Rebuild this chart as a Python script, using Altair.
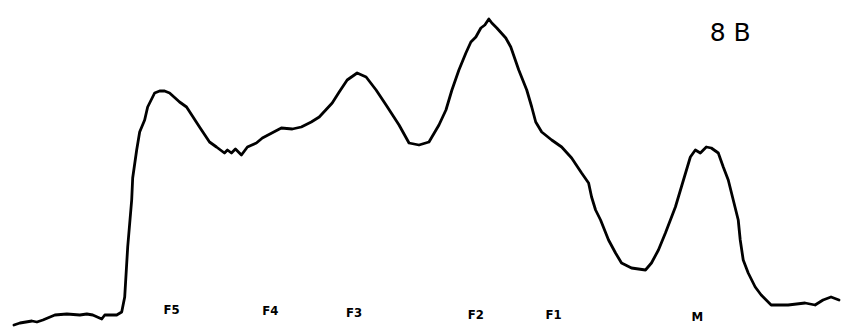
import altair as alt
import pandas as pd

# Densitometer scan: position along the strip vs. optical density (arbitrary units)
position = [14, 20, 32, 37, 43, 55, 67, 80, 87, 93, 102, 105, 117, 122, 125, 128, 132, 133,
            137, 140, 145, 148, 155, 160, 165, 170, 180, 187, 200, 210, 217, 225, 228, 232,
            236, 242, 248, 257, 263, 282, 293, 302, 312, 320, 333, 340, 348, 358, 367, 377,
            387, 400, 410, 420, 430, 440, 447, 453, 460, 467, 472, 477, 482, 486, 490, 493,
            498, 507, 512, 520, 528, 533, 537, 543, 553, 563, 573, 583, 590, 593, 597, 602,
            610, 617, 623, 633, 647, 653, 660, 667, 677, 683, 692, 697, 702, 708, 713, 720,
            725, 730, 735, 740, 742, 745, 750, 757, 763, 773, 790, 807, 817, 825, 833, 841]
density = [2, 4, 6, 5, 7, 12, 13, 12, 13, 12, 8, 12, 12, 15, 30, 80, 127, 149,
           177, 195, 207, 220, 234, 236, 236, 234, 225, 220, 200, 185, 180, 174, 177, 174,
           178, 172, 180, 184, 189, 199, 198, 200, 205, 210, 224, 235, 247, 254, 250, 237,
           222, 202, 184, 182, 185, 202, 217, 237, 257, 274, 285, 290, 299, 302, 308, 304,
           299, 289, 280, 257, 237, 220, 205, 195, 187, 180, 169, 154, 144, 130, 117, 107,
           87, 74, 64, 59, 57, 64, 77, 94, 120, 140, 170, 177, 174, 180, 179, 174,
           160, 147, 127, 107, 87, 67, 54, 40, 32, 22, 22, 24, 22, 27, 30, 27]

# Fraction labels under the trace
label_text = ["F5", "F4", "F3", "F2", "F1", "M"]
label_pos = [172, 271, 355, 477, 555, 699]
label_y = [17, 16, 14, 12, 12, 10]

panel_text = ["8 B"]
panel_pos = [732]
panel_y = [294]

trace = pd.DataFrame({"position": position, "density": density})
labels = pd.DataFrame({"position": label_pos, "density": label_y, "text": label_text})
panel = pd.DataFrame({"position": panel_pos, "density": panel_y, "text": panel_text})

x = alt.X("position:Q", scale=alt.Scale(domain=[0, 841], nice=False), axis=None)
y = alt.Y("density:Q", scale=alt.Scale(domain=[0, 327], nice=False), axis=None)

line = alt.Chart(trace).mark_line(
    color="black", strokeWidth=2.8, interpolate="linear",
    strokeJoin="round", strokeCap="round"
).encode(x=x, y=y)

fractions = alt.Chart(labels).mark_text(
    font="DejaVu Sans Condensed", fontSize=13, fontWeight="bold", color="black",
    baseline="middle"
).encode(x=x, y=y, text="text:N")

title = alt.Chart(panel).mark_text(
    font="DejaVu Sans", fontSize=25, color="black", baseline="middle"
).encode(x=x, y=y, text="text:N")

chart = (line + fractions + title).properties(
    width=841, height=327,
    autosize=alt.AutoSizeParams(type="fit", contains="padding"),
    padding=0,
    background="white",
).configure_view(stroke=None)

chart.save("out.html", embed_options={"renderer": "svg", "actions": False})
